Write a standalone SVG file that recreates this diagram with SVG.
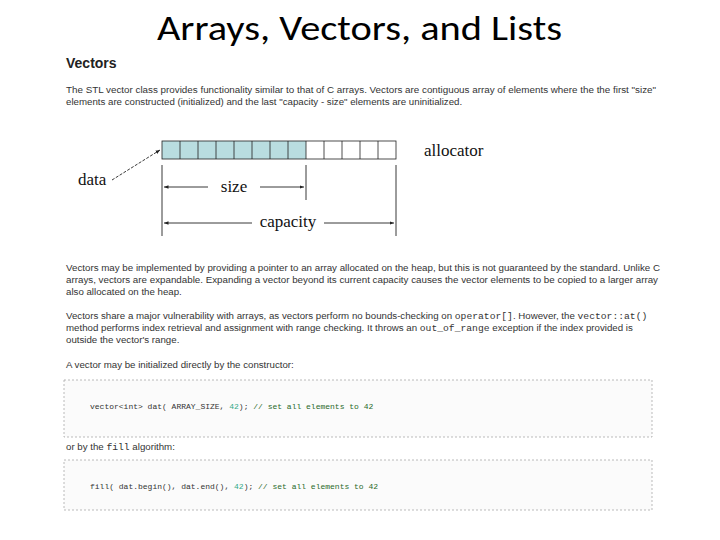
<svg xmlns="http://www.w3.org/2000/svg" width="720" height="540" viewBox="0 0 720 540">
<style>
.t{font-family:"Liberation Sans",Arial,sans-serif;font-size:9.7px;fill:#333}
.s{font-family:"Liberation Serif","Times New Roman",serif;font-size:17px;fill:#111}
.m{font-family:"Liberation Mono","Courier New",monospace;fill:#333}
.cell{stroke:#222;stroke-width:0.8}
.ln{stroke:#222;stroke-width:0.9;fill:none}
.box{fill:#fbfbfb;stroke:#aaa;stroke-width:0.8;stroke-dasharray:2 2}
</style>
<defs><marker id="a" markerWidth="6" markerHeight="6" refX="5" refY="3" orient="auto"><path d="M0,1 L5,3 L0,5 Z" fill="#222"/></marker></defs>
<rect width="720" height="540" fill="#fff"/>
<text x="157" y="40" textLength="405" lengthAdjust="spacingAndGlyphs" font-family="Carlito,Calibri,'Liberation Sans',sans-serif" font-size="34" fill="#000">Arrays, Vectors, and Lists</text>
<text x="66" y="68" font-family="Liberation Sans,Arial,sans-serif" font-weight="bold" font-size="14" fill="#222">Vectors</text>
<text class="t" x="66" y="93" textLength="590" lengthAdjust="spacingAndGlyphs">The STL vector class provides functionality similar to that of C arrays. Vectors are contiguous array of elements where the the first "size"</text>
<text class="t" x="66" y="105">elements are constructed (initialized) and the last "capacity - size" elements are uninitialized.</text>
<g id="array">
<rect x="162" y="141" width="144" height="18" fill="#b9dde0"/>
<g class="cell" fill="none">
<rect x="162" y="141" width="234" height="18"/>
<path d="M180,141v18M198,141v18M216,141v18M234,141v18M252,141v18M270,141v18M288,141v18M306,141v18M324,141v18M342,141v18M360,141v18M378,141v18"/>
</g>
</g>
<g id="labels">
<text class="s" x="78" y="185">data</text>
<text class="s" x="424" y="156">allocator</text>
<text class="s" x="234" y="192" text-anchor="middle">size</text>
<text class="s" x="288" y="227" text-anchor="middle">capacity</text>
</g>
<g id="connectors">
<path class="ln" d="M112,180 L160,150" stroke-dasharray="3 1.5" marker-end="url(#a)"/>
<path class="ln" d="M162,165V236M306,165V200M396,165V236"/>
<path class="ln" d="M208,187H164" marker-end="url(#a)"/>
<path class="ln" d="M260,187H304" marker-end="url(#a)"/>
<path class="ln" d="M252,223H164" marker-end="url(#a)"/>
<path class="ln" d="M324,223H394" marker-end="url(#a)"/>
</g>
<text class="t" x="66" y="271" textLength="594" lengthAdjust="spacingAndGlyphs">Vectors may be implemented by providing a pointer to an array allocated on the heap, but this is not guaranteed by the standard. Unlike C</text>
<text class="t" x="66" y="283" textLength="592" lengthAdjust="spacingAndGlyphs">arrays, vectors are expandable. Expanding a vector beyond its current capacity causes the vector elements to be copied to a larger array</text>
<text class="t" x="66" y="295">also allocated on the heap.</text>
<text class="t" x="66" y="319">Vectors share a major vulnerability with arrays, as vectors perform no bounds-checking on <tspan class="m">operator[]</tspan>. However, the <tspan class="m">vector::at()</tspan></text>
<text class="t" x="66" y="331">method performs index retrieval and assignment with range checking. It throws an <tspan class="m">out_of_range</tspan> exception if the index provided is</text>
<text class="t" x="66" y="343">outside the vector's range.</text>
<text class="t" x="66" y="368">A vector may be initialized directly by the constructor:</text>
<rect class="box" x="64" y="380" width="588" height="57"/>
<text class="m" font-size="8" x="90" y="409">vector&lt;int&gt; dat( ARRAY_SIZE, <tspan fill="#3a8">42</tspan>); <tspan fill="#2a6a2a">// set all elements to 42</tspan></text>
<text class="t" x="66" y="450">or by the <tspan class="m">fill</tspan> algorithm:</text>
<rect class="box" x="64" y="460" width="588" height="50"/>
<text class="m" font-size="8" x="90" y="489">fill( dat.begin(), dat.end(), <tspan fill="#3a8">42</tspan>); <tspan fill="#2a6a2a">// set all elements to 42</tspan></text>
</svg>
